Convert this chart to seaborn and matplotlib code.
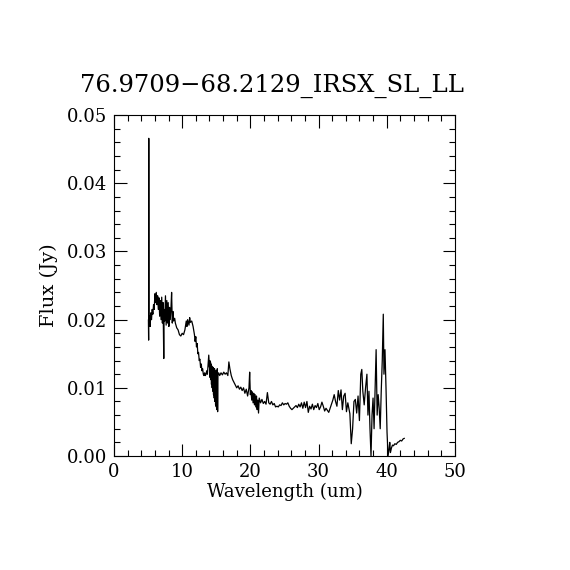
"""
IRS spectrum of 76.9709-68.2129 (SL + LL modules), flux vs wavelength.
Values read off the reference plot by eye.
"""

import pandas as pd
import matplotlib.pyplot as plt
from matplotlib.ticker import MultipleLocator
import seaborn as sns

TITLE = "76.9709\u221268.2129_IRSX_SL_LL"

# wavelength (um) and flux (Jy)
WAVE = [
    5.05, 5.08, 5.10, 5.13, 5.2, 5.3, 5.4, 5.5, 5.6, 5.7, 5.8, 5.9, 6.0, 6.1, 6.2,
    6.3, 6.4, 6.5, 6.6, 6.7, 6.8, 6.9, 7.0, 7.1, 7.2, 7.3, 7.35, 7.45, 7.55, 7.65,
    7.75, 7.85, 7.95, 8.05, 8.15, 8.25, 8.35, 8.45, 8.55, 8.65, 8.75, 8.9, 9.0,
    9.2, 9.4, 9.6, 9.8, 10.0, 10.2, 10.4, 10.6, 10.7, 10.8, 11.0, 11.1, 11.2, 11.4,
    11.6, 11.8, 11.9, 12.0, 12.1, 12.2, 12.3, 12.4, 12.5, 12.6, 12.7, 12.8, 12.9,
    13.0, 13.1, 13.2, 13.3, 13.4, 13.5, 13.6, 13.7, 13.8, 13.9, 14.0,
    14.05, 14.1, 14.15, 14.2, 14.25, 14.3, 14.35, 14.4, 14.45, 14.5, 14.55, 14.6,
    14.65, 14.7, 14.75, 14.8, 14.85, 14.9, 14.95, 15.0, 15.05, 15.1, 15.15, 15.2,
    15.25, 15.35, 15.5, 15.7, 15.9, 16.1, 16.3, 16.5, 16.7, 16.85, 17.0, 17.2,
    17.4, 17.6, 17.8, 18.0, 18.2, 18.4, 18.6, 18.8, 19.0, 19.2, 19.4, 19.6, 19.8,
    19.9, 20.0, 20.1, 20.2, 20.3, 20.4, 20.5, 20.6, 20.7, 20.8, 20.9, 21.0, 21.1,
    21.2, 21.3, 21.5, 21.7, 21.9, 22.1, 22.3, 22.5, 22.7, 22.9, 23.1, 23.3, 23.5,
    23.7, 23.9, 24.1, 24.3, 24.5, 24.7, 24.9, 25.1, 25.3, 25.5, 25.7, 25.9, 26.1,
    26.3, 26.5, 26.7, 26.9, 27.1, 27.3, 27.5, 27.7, 27.9, 28.1, 28.3, 28.5, 28.7,
    28.9, 29.1, 29.3, 29.5, 29.7, 29.9, 30.1, 30.3, 30.5, 30.7, 30.9, 31.1, 31.3,
    31.5, 31.7, 31.9, 32.1, 32.3, 32.5, 32.7, 32.9, 33.1, 33.3, 33.5, 33.7, 33.9,
    34.1, 34.3, 34.6, 34.8, 35.0, 35.2, 35.4, 35.6, 35.8, 36.0, 36.2, 36.35, 36.5,
    36.7, 36.9, 37.1, 37.25, 37.4, 37.55, 37.7, 37.85, 38.0, 38.15, 38.3, 38.45,
    38.6, 38.75, 38.9, 39.05, 39.2, 39.35, 39.5, 39.6, 39.75, 39.9, 40.05, 40.2,
    40.35, 40.45, 40.55, 40.7, 40.85, 41.0, 41.2, 41.4, 41.6, 41.8, 42.0, 42.2,
    42.4, 42.6,
]
FLUX = [
    0.0200, 0.0170, 0.0466, 0.0195, 0.0205, 0.0190, 0.0210, 0.0200, 0.0215, 0.0208,
    0.0222, 0.0215, 0.0238, 0.0225, 0.0240, 0.0222, 0.0235, 0.0215, 0.0232, 0.0205,
    0.0228, 0.0200, 0.0233, 0.0195, 0.0225, 0.0143, 0.0215, 0.0198, 0.0235, 0.0192,
    0.0228, 0.0195, 0.0225, 0.0190, 0.0218, 0.0200, 0.0215, 0.0240, 0.0195, 0.0212,
    0.0198, 0.0202, 0.0195, 0.0188, 0.0185, 0.0178, 0.0176, 0.0180, 0.0178, 0.0185,
    0.0198, 0.0190, 0.0200, 0.0192, 0.0203, 0.0196, 0.0198, 0.0190, 0.0178, 0.0168,
    0.0175, 0.0160, 0.0165, 0.0150, 0.0152, 0.0140, 0.0142, 0.0130, 0.0135, 0.0125,
    0.0128, 0.0120, 0.0118, 0.0122, 0.0118, 0.0120, 0.0125, 0.0120, 0.0135, 0.0148,
    0.0130,
    0.0140, 0.0115, 0.0138, 0.0112, 0.0135, 0.0105, 0.0132, 0.0100, 0.0128, 0.0095,
    0.0130, 0.0090, 0.0125, 0.0085, 0.0128, 0.0080, 0.0122, 0.0075, 0.0125, 0.0072,
    0.0120, 0.0068, 0.0128, 0.0065, 0.0118, 0.0122, 0.0118, 0.0122, 0.0119, 0.0123,
    0.0120, 0.0122, 0.0118, 0.0138, 0.0128, 0.0118, 0.0112, 0.0108, 0.0104, 0.0100,
    0.0103, 0.0098, 0.0101, 0.0096, 0.0100, 0.0092, 0.0098, 0.0088, 0.0100, 0.0123,
    0.0090, 0.0096, 0.0082, 0.0094, 0.0078, 0.0092, 0.0075, 0.0090, 0.0072, 0.0088,
    0.0068, 0.0082, 0.0063, 0.0085, 0.0078, 0.0083, 0.0077, 0.0080, 0.0076, 0.0093,
    0.0078, 0.0076, 0.0080, 0.0075, 0.0077, 0.0072, 0.0073, 0.0072, 0.0075, 0.0074,
    0.0078, 0.0075, 0.0077, 0.0076, 0.0078, 0.0073, 0.0070, 0.0068, 0.0070, 0.0072,
    0.0074, 0.0071, 0.0076, 0.0072, 0.0078, 0.0070, 0.0079, 0.0071, 0.0080, 0.0064,
    0.0073, 0.0069, 0.0076, 0.0068, 0.0074, 0.0071, 0.0077, 0.0068, 0.0072, 0.0079,
    0.0073, 0.0066, 0.0070, 0.0067, 0.0064, 0.0070, 0.0076, 0.0082, 0.0090, 0.0080,
    0.0073, 0.0096, 0.0082, 0.0097, 0.0068, 0.0088, 0.0092, 0.0065, 0.0078, 0.0062,
    0.0018, 0.0040, 0.0080, 0.0083, 0.0063, 0.0088, 0.0052, 0.0120, 0.0127, 0.0095,
    0.0075, 0.0100, 0.0120, 0.0060, 0.0095, 0.0040, 0.0000, 0.0060, 0.0085, 0.0040,
    0.0100, 0.0156, 0.0060, 0.0090, 0.0070, 0.0040, 0.0095, 0.0140, 0.0208, 0.0120,
    0.0156, 0.0100, 0.0035, 0.0000, 0.0010, 0.0020, 0.0005, 0.0012, 0.0016, 0.0015,
    0.0018, 0.0017, 0.0020, 0.0021, 0.0023, 0.0022, 0.0025, 0.0026,
]

sns.set_style("ticks")
plt.rcParams["font.family"] = ["DejaVu Serif"]
plt.rcParams["text.color"] = "black"
plt.rcParams["axes.labelcolor"] = "black"

spec = pd.DataFrame({"wave": WAVE, "flux": FLUX})

fig = plt.figure(figsize=(5.7, 5.7), dpi=100)
ax = fig.add_axes([0.2, 0.2, 0.598, 0.598])
sns.lineplot(data=spec, x="wave", y="flux", sort=False, estimator=None,
             color="black", lw=0.9, ax=ax)

ax.set_xlim(0, 50)
ax.set_ylim(0, 0.05)
ax.xaxis.set_major_locator(MultipleLocator(10))
ax.xaxis.set_minor_locator(MultipleLocator(2))
ax.yaxis.set_major_locator(MultipleLocator(0.01))
ax.yaxis.set_minor_locator(MultipleLocator(0.002))
ax.yaxis.set_major_formatter(plt.FuncFormatter(lambda v, _: f"{v:.2f}"))
ax.tick_params(which="both", direction="in", top=True, right=True,
               labelsize=13, colors="black", width=0.8)
ax.tick_params(which="major", length=9, pad=5)
ax.tick_params(which="minor", length=4.5)
for s in ax.spines.values():
    s.set_linewidth(0.8)
    s.set_color("black")

ax.set_xlabel("Wavelength (um)", fontsize=13, labelpad=1)
ax.set_ylabel("Flux (Jy)", fontsize=14, labelpad=6)
# title sits a little left of the axes centre in the original
ax.set_title(TITLE, fontsize=17.5, pad=17, x=0.465)

fig.savefig("out.png", dpi=100)
